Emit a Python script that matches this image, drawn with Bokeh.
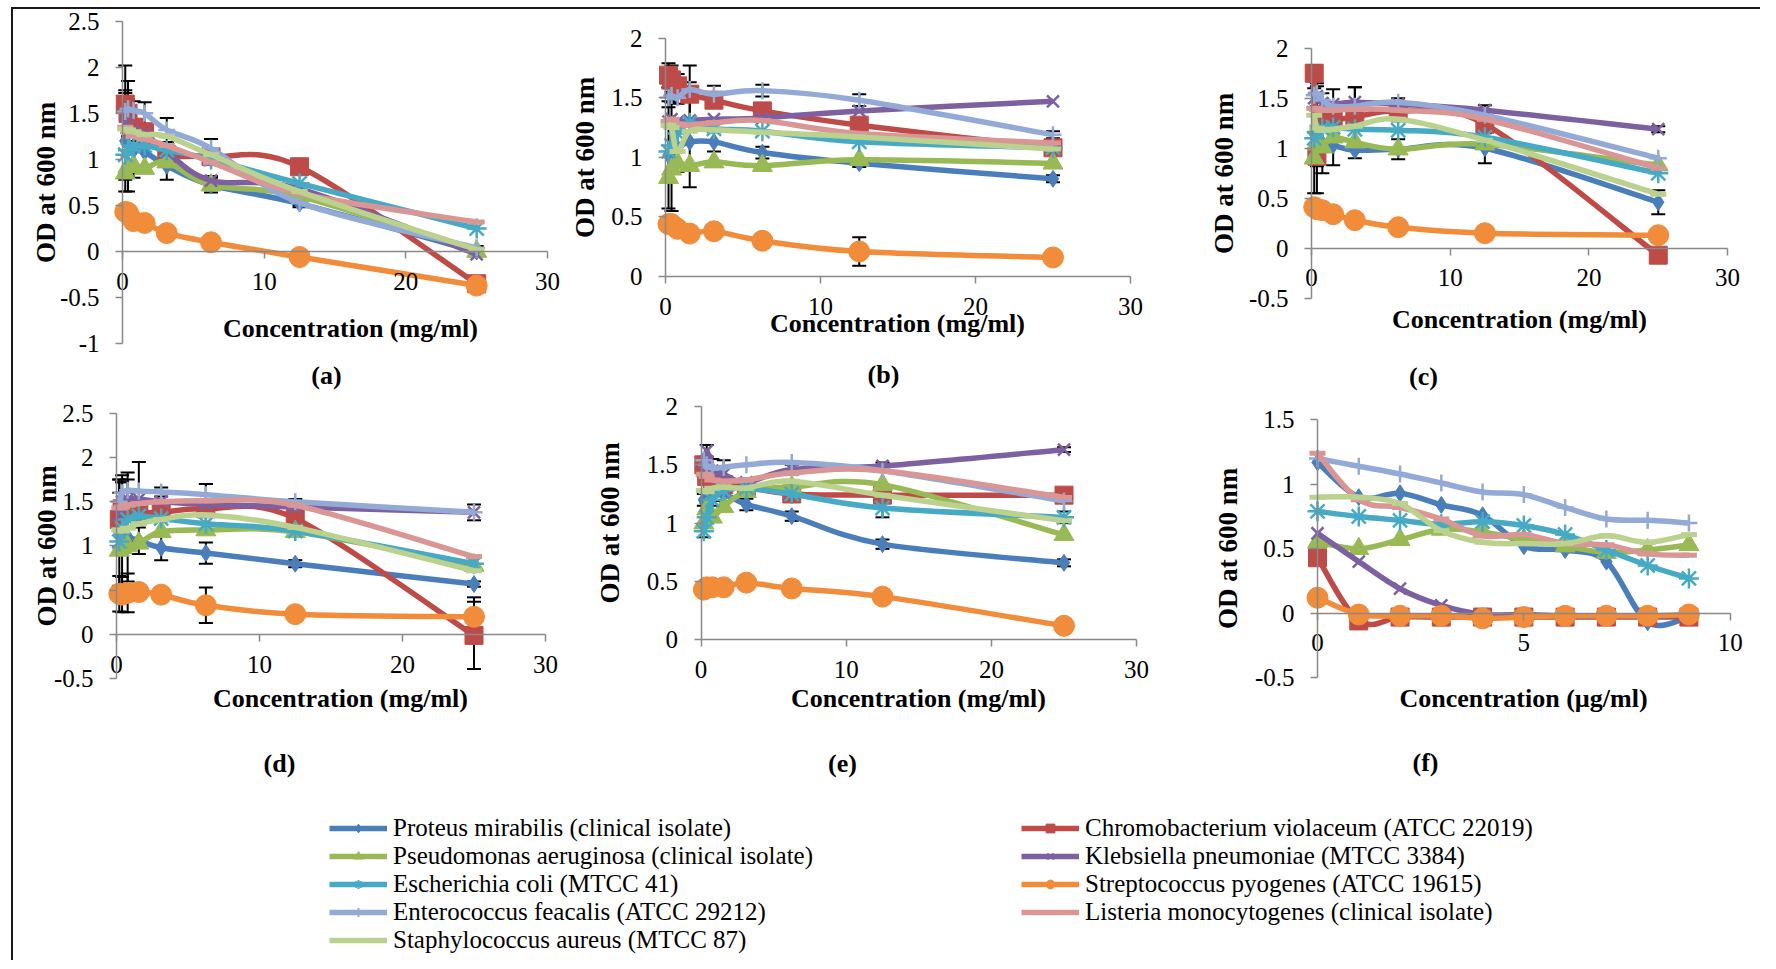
from bokeh.plotting import figure
from bokeh.models import (Range1d, FixedTicker, CustomJSTickFormatter, Label, Whisker,
                          TeeHead, ColumnDataSource, Legend, LegendItem)
from bokeh.layouts import row, column
from bokeh.embed import file_html
from bokeh.resources import INLINE

# ---------------- data ----------------
species = ["Proteus mirabilis (clinical isolate)", "Chromobacterium violaceum (ATCC 22019)",
           "Pseudomonas aeruginosa (clinical isolate)", "Klebsiella pneumoniae (MTCC 3384)",
           "Escherichia coli (MTCC 41)", "Streptococcus pyogenes (ATCC 19615)",
           "Enterococcus feacalis (ATCC 29212)", "Listeria monocytogenes (clinical isolate)",
           "Staphylococcus aureus (MTCC 87)"]
colors = ["#4A7EBB", "#BE4B48", "#98B954", "#7D60A0", "#46AAC5", "#F08C3A",
          "#93AAD6", "#D99694", "#BBD28F"]
markers = ["diamond", "square", "triangle", "x", "asterisk", "circle", "cross", "dash", "dash"]
marker_sizes = [17, 18, 20, 17, 20, 21, 17, 16, 16]

conc_mg = [0.195, 0.39, 0.78, 1.5625, 3.125, 6.25, 12.5, 25]
conc_ug = [0, 1, 2, 3, 4, 5, 6, 7, 8, 9]

od_a = [[1.2, 1.15, 1.1, 1.08, 0.93, 0.72, 0.52, 0.0],
        [1.6, 1.5, 1.35, 1.3, 1.05, 1.03, 0.92, -0.35],
        [0.85, 0.92, 0.93, 0.9, 0.97, 0.72, 0.6, 0.0],
        [1.4, 1.35, 1.3, 1.28, 1.08, 0.77, 0.68, -0.03],
        [1.05, 1.1, 1.15, 1.15, 1.1, 1.0, 0.74, 0.25],
        [0.43, 0.42, 0.33, 0.31, 0.2, 0.1, -0.06, -0.37],
        [1.52, 1.55, 1.53, 1.5, 1.32, 1.12, 0.53, 0.04],
        [1.35, 1.3, 1.25, 1.22, 1.15, 0.97, 0.63, 0.32],
        [1.33, 1.32, 1.3, 1.27, 1.25, 1.05, 0.65, 0.02]]
od_b = [[1.02, 1.05, 1.08, 1.13, 1.13, 1.04, 0.95, 0.82],
        [1.69, 1.65, 1.6, 1.53, 1.48, 1.39, 1.27, 1.08],
        [0.83, 0.9, 0.95, 0.93, 0.96, 0.93, 0.98, 0.95],
        [1.3, 1.32, 1.3, 1.31, 1.32, 1.33, 1.39, 1.47],
        [1.05, 1.1, 1.2, 1.29, 1.24, 1.22, 1.13, 1.08],
        [0.44, 0.44, 0.4, 0.36, 0.38, 0.30, 0.21, 0.16],
        [1.5, 1.52, 1.5, 1.57, 1.53, 1.56, 1.48, 1.19],
        [1.3, 1.32, 1.28, 1.27, 1.29, 1.31, 1.2, 1.12],
        [1.27, 1.25, 1.05, 1.22, 1.23, 1.21, 1.17, 1.07]]
od_c = [[1.15, 1.1, 1.05, 1.03, 0.98, 0.99, 1.0, 0.46],
        [1.75, 0.92, 1.3, 1.29, 1.31, 1.37, 1.24, -0.07],
        [0.9, 1.04, 1.01, 1.11, 1.06, 0.99, 1.04, 0.83],
        [1.5, 1.52, 1.45, 1.44, 1.46, 1.44, 1.38, 1.19],
        [1.1, 1.16, 1.2, 1.21, 1.19, 1.18, 1.11, 0.75],
        [0.41, 0.39, 0.38, 0.34, 0.28, 0.21, 0.15, 0.13],
        [1.53, 1.55, 1.48, 1.42, 1.42, 1.46, 1.33, 0.9],
        [1.4, 1.39, 1.38, 1.38, 1.39, 1.38, 1.29, 0.8],
        [1.33, 1.2, 1.18, 1.19, 1.22, 1.29, 1.08, 0.54]]
od_d = [[1.15, 1.12, 1.1, 1.06, 0.98, 0.92, 0.8, 0.57],
        [1.3, 1.42, 1.4, 1.38, 1.38, 1.42, 1.31, -0.01],
        [0.95, 0.98, 1.0, 1.03, 1.16, 1.18, 1.16, 0.78],
        [1.35, 1.5, 1.53, 1.53, 1.5, 1.47, 1.44, 1.38],
        [1.05, 1.2, 1.3, 1.34, 1.31, 1.25, 1.17, 0.8],
        [0.46, 0.45, 0.47, 0.48, 0.45, 0.33, 0.23, 0.2],
        [1.5, 1.6, 1.63, 1.62, 1.61, 1.58, 1.5, 1.38],
        [1.43, 1.44, 1.46, 1.48, 1.5, 1.51, 1.46, 0.88],
        [1.18, 1.17, 1.2, 1.25, 1.3, 1.35, 1.21, 0.72]]
od_e = [[1.2, 1.22, 1.24, 1.25, 1.16, 1.06, 0.82, 0.66],
        [1.5, 1.4, 1.35, 1.33, 1.31, 1.25, 1.24, 1.24],
        [1.0, 1.12, 1.05, 1.14, 1.27, 1.31, 1.33, 0.9],
        [1.45, 1.62, 1.45, 1.42, 1.35, 1.46, 1.49, 1.63],
        [0.93, 1.05, 1.2, 1.28, 1.3, 1.25, 1.13, 1.05],
        [0.43, 0.45, 0.45, 0.45, 0.49, 0.44, 0.37, 0.12],
        [1.54, 1.5, 1.47, 1.48, 1.5, 1.52, 1.45, 1.19],
        [1.42, 1.4, 1.37, 1.36, 1.37, 1.43, 1.45, 1.22],
        [1.28, 1.27, 1.3, 1.31, 1.3, 1.36, 1.24, 1.02]]
od_f = [[1.17, 0.9, 0.93, 0.84, 0.76, 0.52, 0.49, 0.4, -0.07, -0.03],
        [0.43, -0.06, -0.03, -0.03, -0.03, -0.03, -0.03, -0.03, -0.03, -0.03],
        [0.55, 0.5, 0.57, 0.65, 0.63, 0.57, 0.52, 0.47, 0.49, 0.53],
        [0.62, 0.4, 0.19, 0.06, -0.01, -0.01, -0.02, -0.02, -0.02, -0.02],
        [0.79, 0.75, 0.72, 0.69, 0.71, 0.68, 0.61, 0.49, 0.37, 0.27],
        [0.12, -0.01, -0.02, -0.02, -0.04, -0.03, -0.02, -0.02, -0.02, -0.01],
        [1.2, 1.14, 1.08, 1.01, 0.94, 0.92, 0.82, 0.73, 0.72, 0.7],
        [1.24, 0.88, 0.82, 0.73, 0.6, 0.61, 0.54, 0.53, 0.46, 0.45],
        [0.9, 0.9, 0.85, 0.64, 0.55, 0.54, 0.54, 0.6, 0.55, 0.61]]

# error bars (standard deviation), keyed by series index
err_a = {0: [0.55, 0.5, 0.3, 0.2, 0.15, 0.08, 0.04, 0.03],
         3: [0.62, 0.5, 0.1, 0.1, 0.1, 0.05, 0.03, 0.02],
         6: [0.2, 0.3, 0.1, 0.12, 0.13, 0.1, 0.03, 0.02]}
err_b = {0: [0.45, 0.5, 0.2, 0.38, 0.08, 0.05, 0.03, 0.03],
         1: [0.1, 0.12, 0.1, 0.24, 0.06, 0.05, 0.04, 0.03],
         5: [0.0, 0.0, 0.0, 0.0, 0.0, 0.0, 0.12, 0.0],
         6: [0.08, 0.06, 0.05, 0.06, 0.07, 0.05, 0.05, 0.03]}
err_c = {0: [0.6, 0.55, 0.3, 0.2, 0.08, 0.1, 0.15, 0.12],
         1: [0.08, 0.1, 0.1, 0.1, 0.3, 0.1, 0.05, 0.03],
         3: [0.1, 0.1, 0.1, 0.15, 0.15, 0.06, 0.05, 0.03]}
err_d = {0: [0.6, 0.6, 0.5, 0.15, 0.14, 0.12, 0.04, 0.03],
         1: [0.3, 0.3, 0.35, 0.1, 0.1, 0.28, 0.05, 0.38],
         5: [0.2, 0.2, 0.22, 0.05, 0.05, 0.2, 0.02, 0.22],
         6: [0.25, 0.2, 0.2, 0.33, 0.05, 0.12, 0.03, 0.09]}
err_e = {3: [0.05, 0.05, 0.1, 0.12, 0.03, 0.04, 0.03, 0.02],
         4: [0.05, 0.05, 0.05, 0.05, 0.05, 0.05, 0.08, 0.05],
         0: [0.05, 0.05, 0.05, 0.06, 0.05, 0.04, 0.04, 0.03]}
err_f = {}

yt_a = [-1, -0.5, 0, 0.5, 1, 1.5, 2, 2.5]
yt_2 = [0, 0.5, 1, 1.5, 2]
yt_c = [-0.5, 0, 0.5, 1, 1.5, 2]
yt_d = [-0.5, 0, 0.5, 1, 1.5, 2, 2.5]
yt_f = [-0.5, 0, 0.5, 1, 1.5]
xt_mg = [0, 10, 20, 30]
xt_ug = [0, 5, 10]
T_MG = "Concentration (mg/ml)"
T_UG = "Concentration (\u00b5g/ml)"
Y_TITLE = "OD at 600 nm"

SERIF = "Liberation Serif"
AXIS_GREY = "#898989"
fmt = CustomJSTickFormatter(code="return tick.toString();")


def smooth(xs, ys):
    """Bezier control points for an Excel-like smoothed line (Catmull-Rom)."""
    n = len(xs)
    out = {k: [] for k in ("x0", "y0", "x1", "y1", "cx0", "cy0", "cx1", "cy1")}
    for i in range(n - 1):
        a = i - 1 if i > 0 else i
        d = i + 2 if i + 2 < n else i + 1
        out["x0"].append(xs[i]); out["y0"].append(ys[i])
        out["x1"].append(xs[i + 1]); out["y1"].append(ys[i + 1])
        out["cx0"].append(xs[i] + (xs[i + 1] - xs[a]) / 6.0)
        out["cy0"].append(ys[i] + (ys[i + 1] - ys[a]) / 6.0)
        out["cx1"].append(xs[i + 1] - (xs[d] - xs[i]) / 6.0)
        out["cy1"].append(ys[i + 1] - (ys[d] - ys[i]) / 6.0)
    return out


def panel(xs, od, errs, xmax, xticks, ymin, ymax, yticks, box, origin, scale,
          ystand, xtitle, xt_page, lab, lab_page):
    bx, by, bw, bh = box          # page box of the figure
    X0, Y0 = origin               # page position of data (0, 0)
    sx, sy = scale                # pixels per data unit
    xr = Range1d((bx - X0) / sx, (bx + bw - X0) / sx)
    yr = Range1d((Y0 - (by + bh)) / sy, (Y0 - by) / sy)
    p = figure(width=bw, height=bh, min_border=0, x_range=xr, y_range=yr,
               output_backend="svg", toolbar_location=None, tools="")
    p.outline_line_color = None
    p.xgrid.visible = False
    p.ygrid.visible = False
    p.background_fill_color = None
    p.border_fill_color = None

    for k in range(len(od)):
        seg = smooth(xs, od[k])
        p.bezier(x0="x0", y0="y0", x1="x1", y1="y1", cx0="cx0", cy0="cy0", cx1="cx1", cy1="cy1",
                 source=ColumnDataSource(seg), line_color=colors[k], line_width=5.5)
        lw = 2.5 if markers[k] in ("x", "asterisk", "cross") else 1
        if markers[k] == "dash":
            lw = 5
        p.scatter(xs, od[k], marker=markers[k], size=marker_sizes[k], fill_color=colors[k],
                  line_color=colors[k], line_width=lw)

    for k, e in errs.items():
        up = [v + d for v, d in zip(od[k], e)]
        lo = [v - d for v, d in zip(od[k], e)]
        src = ColumnDataSource(dict(x=xs, up=up, lo=lo))
        p.add_layout(Whisker(source=src, base="x", upper="up", lower="lo", line_color="black",
                             line_width=2,
                             upper_head=TeeHead(size=14, line_color="black", line_width=2),
                             lower_head=TeeHead(size=14, line_color="black", line_width=2)))

    xa = p.xaxis[0]
    xa.fixed_location = 0
    xa.bounds = (0, xmax)
    xa.ticker = FixedTicker(ticks=xticks)
    xa.formatter = fmt
    ya = p.yaxis[0]
    ya.fixed_location = 0
    ya.bounds = (ymin, ymax)
    ya.ticker = FixedTicker(ticks=yticks)
    ya.formatter = fmt
    for ax in (xa, ya):
        ax.axis_line_color = AXIS_GREY
        ax.axis_line_width = 1.5
        ax.major_tick_line_color = AXIS_GREY
        ax.major_tick_line_width = 1.5
        ax.major_tick_out = 7
        ax.major_tick_in = 0
        ax.minor_tick_line_color = None
        ax.major_label_text_font = SERIF
        ax.major_label_text_font_size = "25px"
        ax.major_label_text_color = "black"
    xa.major_label_standoff = 14
    ya.major_label_standoff = 16
    ya.axis_label = Y_TITLE
    ya.axis_label_text_font = SERIF
    ya.axis_label_text_font_style = "bold"
    ya.axis_label_text_font_size = "27px"
    ya.axis_label_text_color = "black"
    ya.axis_label_standoff = ystand

    def to_data(pt):
        return (pt[0] - X0) / sx, (Y0 - pt[1]) / sy

    tx, ty = to_data(xt_page)
    p.add_layout(Label(x=tx, y=ty, text=xtitle, text_font=SERIF,
                       text_font_style="bold", text_font_size="26px", text_align="center",
                       text_baseline="middle", text_color="black"))
    lx, ly = to_data(lab_page)
    p.add_layout(Label(x=lx, y=ly, text=lab, text_font=SERIF,
                       text_font_style="bold", text_font_size="26px", text_align="center",
                       text_baseline="middle", text_color="black"))
    return p


# layout geometry (page pixels): figure box, data origin, scale
TOP, BOT = 9, 790
B1, B2, B3 = 394, 391, 396     # split between upper and lower panel, per column
pa = panel(conc_mg, od_a, err_a, 30, xt_mg, -1, 2.5, yt_a,
           (13, TOP, 547, B1 - TOP), (122, 251), (14.167, 92.12), -4,
           T_MG, (350, 328), "(a)", (326, 375))
pd = panel(conc_mg, od_d, err_d, 30, xt_mg, -0.5, 2.5, yt_d,
           (13, B1, 547, BOT - B1), (116, 634), (14.3, 88.52), -11,
           T_MG, (340, 698), "(d)", (279, 763))
pb = panel(conc_mg, od_b, err_b, 30, xt_mg, 0, 2, yt_2,
           (560, TOP, 620, B2 - TOP), (665, 276), (15.5, 119.15), 8,
           T_MG, (897, 323), "(b)", (883, 374))
pe = panel(conc_mg, od_e, err_e, 30, xt_mg, 0, 2, yt_2,
           (560, B2, 620, BOT - B2), (700.5, 639.3), (14.52, 116.65), 19,
           T_MG, (918, 698), "(e)", (842, 763))
pc = panel(conc_mg, od_c, err_c, 30, xt_mg, -0.5, 2, yt_c,
           (1180, TOP, 580, B3 - TOP), (1311, 247.7), (13.87, 100.0), 7,
           T_MG, (1519, 319), "(c)", (1423, 376))
pf = panel(conc_ug, od_f, err_f, 10, xt_ug, -0.5, 1.5, yt_f,
           (1180, B3, 580, BOT - B3), (1317, 612.7), (41.27, 128.93), 9,
           T_UG, (1523, 698), "(f)", (1425, 762))


def legend_fig(idx, fw, left):
    # the series are drawn here out of view; only the legend is visible
    p = figure(frame_width=fw, frame_height=146, min_border_left=left, min_border_right=0,
               min_border_top=24, min_border_bottom=0, x_range=Range1d(100, 101),
               y_range=Range1d(100, 101), output_backend="svg", toolbar_location=None,
               tools="", x_axis_location=None, y_axis_location=None)
    p.outline_line_color = None
    p.xgrid.visible = False
    p.ygrid.visible = False
    p.background_fill_color = None
    p.border_fill_color = None
    items = []
    for k in idx:
        src = ColumnDataSource(dict(x=conc_mg, y=od_a[k]))
        lr = p.line("x", "y", source=src, line_color=colors[k], line_width=5.5)
        rs = [lr]
        if markers[k] != "dash":
            lw = 2 if markers[k] in ("x", "asterisk", "cross") else 1
            sr = p.scatter("x", "y", source=src, marker=markers[k], size=15,
                           fill_color=colors[k], line_color=colors[k], line_width=lw)
            rs.append(sr)
        items.append(LegendItem(label=species[k], renderers=rs))
    leg = Legend(items=items, location="top_left", margin=0, padding=0, spacing=0,
                 glyph_width=58, glyph_height=22, label_height=22, label_standoff=6,
                 label_text_font=SERIF, label_text_font_size="25px",
                 label_text_color="black", border_line_color=None,
                 background_fill_alpha=0)
    p.add_layout(leg)
    return p


lg1 = legend_fig([0, 2, 4, 6, 8], 692, 316)
lg2 = legend_fig([1, 3, 5, 7], 700, 0)

panels = row(column(pa, pd), column(pb, pe), column(pc, pf))
root = column(panels, row(lg1, lg2),
              margin=(7, 0, 0, 11),
              styles={"border-top": "2px solid #1a1a1a", "border-left": "2px solid #1a1a1a"})

open("out.html", "w").write(file_html(root, INLINE))
